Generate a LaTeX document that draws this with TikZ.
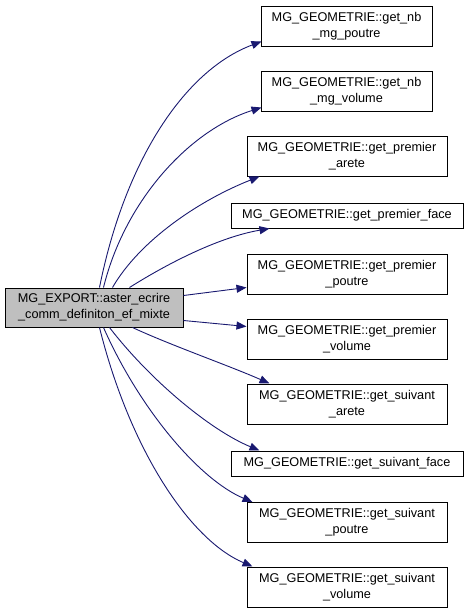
\documentclass[tikz,border=0pt]{standalone}
\usepackage{fontspec}
\setmainfont{Liberation Sans}
\usetikzlibrary{arrows.meta,calc}
\definecolor{edgeblue}{HTML}{191970}
\definecolor{maingray}{HTML}{BFBFBF}
\tikzset{
  fn/.style={draw=black, line width=1pt, inner sep=0pt, align=center,
    font=\fontsize{12.7}{16}\selectfont, minimum height=40pt},
  fnone/.style={fn, minimum height=25pt},
  call/.style={draw=edgeblue, line width=0.9pt,
    -{Triangle[length=10pt,width=8pt]}, shorten >=0pt}
}
\begin{document}
\begin{tikzpicture}[x=1pt,y=-1pt]
\useasboundingbox (0,0) rectangle (468,613);
\node[fn, fill=maingray, minimum width=178pt, minimum height=39pt] (main) at (94,307.5) {MG\_EXPORT::aster\_ecrire\\\_comm\_definiton\_ef\_mixte};
\node[fn, minimum width=171pt] (nbp) at (346.5,26) {MG\_GEOMETRIE::get\_nb\\\_mg\_poutre};
\node[fn, minimum width=171pt] (nbv) at (346.5,91) {MG\_GEOMETRIE::get\_nb\\\_mg\_volume};
\node[fn, minimum width=200pt] (pa) at (347,156) {MG\_GEOMETRIE::get\_premier\\\_arete};
\node[fnone, minimum width=232pt] (pf) at (347,215.5) {MG\_GEOMETRIE::get\_premier\_face};
\node[fn, minimum width=200pt] (pp) at (347,274) {MG\_GEOMETRIE::get\_premier\\\_poutre};
\node[fn, minimum width=200pt] (pv) at (347,339) {MG\_GEOMETRIE::get\_premier\\\_volume};
\node[fn, minimum width=200pt] (sa) at (347,404) {MG\_GEOMETRIE::get\_suivant\\\_arete};
\node[fnone, minimum width=232pt] (sf) at (347,463.5) {MG\_GEOMETRIE::get\_suivant\_face};
\node[fn, minimum width=200pt] (sp) at (347,522.5) {MG\_GEOMETRIE::get\_suivant\\\_poutre};
\node[fn, minimum width=200pt] (sv) at (347,587) {MG\_GEOMETRIE::get\_suivant\\\_volume};

\draw[call] ($(main.north west)+(95,0)$) .. controls (125,160) and (185,70) .. ($(nbp.south west)+(1,-5)$);
\draw[call] ($(main.north west)+(99,0)$) .. controls (125,200) and (190,130) .. ($(nbv.south west)+(1,-4)$);
\draw[call] ($(main.north west)+(108,0)$) .. controls (140,240) and (200,200) .. ($(pa.south west)+(13,0)$);
\draw[call] ($(main.north west)+(125,0)$) .. controls (170,262) and (220,237) .. ($(pf.south west)+(39,0)$);
\draw[call] ($(main.north east)+(0,8)$) -- ($(pp.south west)+(0,-7)$);
\draw[call] ($(main.south east)+(0,-7)$) -- ($(pv.north west)+(0,8)$);
\draw[call] ($(main.south west)+(128,0)$) .. controls (170,345) and (230,366) .. ($(sa.north west)+(23,0)$);
\draw[call] ($(main.south west)+(105,0)$) .. controls (150,380) and (210,430) .. ($(sf.north west)+(29,0)$);
\draw[call] ($(main.south west)+(99,0)$) .. controls (140,410) and (200,480) .. ($(sp.north west)+(6,0)$);
\draw[call] ($(main.south west)+(95,0)$) .. controls (130,450) and (190,540) .. ($(sv.north west)+(6,0)$);
\end{tikzpicture}
\end{document}
